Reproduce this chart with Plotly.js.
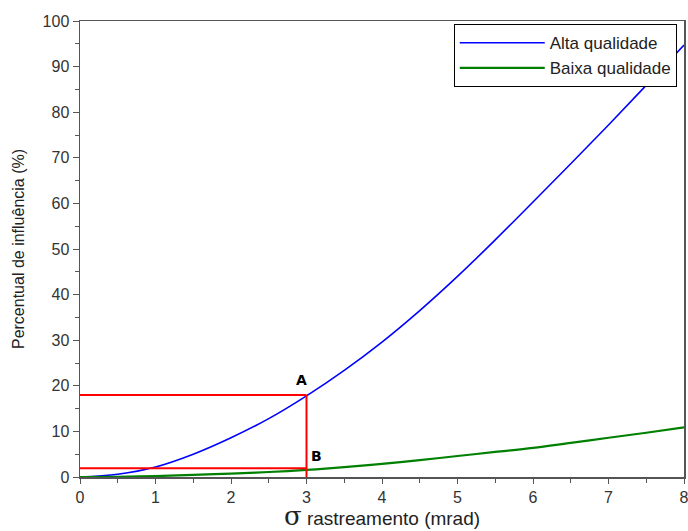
<!DOCTYPE html>
<html>
<head>
<meta charset="utf-8">
<script src="https://cdn.plot.ly/plotly-3.0.1.min.js"></script>
<style>html,body{margin:0;padding:0;background:#fff;}#chart{width:688px;height:531px;}</style>
</head>
<body>
<div id="chart"></div>
<script>
var sigma = [0,0.5,1,1.5,2,2.5,3,3.5,4,4.5,5,5.5,6,6.5,7,7.5,8];
var alta = [0,0.6,2.2,5.0,8.6,12.8,17.8,23.4,29.6,36.5,44.0,52.0,60.3,68.7,77.2,85.9,94.7];
var baixa = [0,0.05,0.2,0.45,0.75,1.1,1.55,2.15,2.9,3.7,4.6,5.5,6.4,7.5,8.6,9.7,10.9];
var guideH1x = [0,3], guideH1y = [18,18];
var guideVx = [3,3], guideVy = [0,18];
var guideH2x = [0,3], guideH2y = [1.9,1.9];
var labelText = ['A','B'];
var labelX = [2.94,3.13];
var labelY = [21.3,4.6];

var traces = [
  {x: sigma, y: alta, type:'scatter', mode:'lines', name:'Alta qualidade', line:{color:'#0000ff', width:1.6, shape:'spline'}},
  {x: sigma, y: baixa, type:'scatter', mode:'lines', name:'Baixa qualidade', line:{color:'#008000', width:2.2, shape:'spline'}},
  {x: guideH1x, y: guideH1y, type:'scatter', mode:'lines', showlegend:false, line:{color:'#ff0000', width:2}},
  {x: guideVx, y: guideVy, type:'scatter', mode:'lines', showlegend:false, line:{color:'#ff0000', width:2}},
  {x: guideH2x, y: guideH2y, type:'scatter', mode:'lines', showlegend:false, line:{color:'#ff0000', width:2}}
];

var annotations = labelText.map(function(t,i){
  return {x: labelX[i], y: labelY[i], xref:'x', yref:'y', text:'<b>'+t+'</b>', showarrow:false,
    font:{family:'DejaVu Sans, Liberation Sans, Arial', size:14, color:'#000'}};
});

var layout = {
  width: 688, height: 531,
  margin: {l:80, r:4, t:21, b:54},
  paper_bgcolor:'#fff', plot_bgcolor:'#fff',
  font: {family:'Liberation Sans, Arial, sans-serif', size:15, color:'#333'},
  showlegend: true,
  legend: {x:0.988, y:0.993, xanchor:'right', yanchor:'top', bgcolor:'#fff', bordercolor:'#000', borderwidth:1,
    font:{size:17, color:'#222'}, itemwidth:85, tracegroupgap:0},
  xaxis: {range:[0,8], dtick:1, tick0:0, showgrid:false, zeroline:false, showline:true, linecolor:'#555', linewidth:1.5,
    mirror:true, ticks:'outside', ticklen:5, tickcolor:'#555', tickfont:{size:16, color:'#333'}, ticklabeloverflow:'allow',
    minor:{dtick:0.5, ticks:'outside', ticklen:4, tickcolor:'#555', showgrid:false},
    title:{text:'<span style="font-family:DejaVu Serif, Liberation Serif, serif;font-size:26px">σ</span> rastreamento (mrad)', font:{size:19, color:'#222'}, standoff:6}},
  yaxis: {range:[0,100], dtick:10, tick0:0, showgrid:false, zeroline:false, showline:true, linecolor:'#555', linewidth:1.5,
    mirror:true, ticks:'outside', ticklen:6, tickcolor:'#555', tickfont:{size:16, color:'#333'},
    minor:{dtick:5, ticks:'outside', ticklen:4, tickcolor:'#555', showgrid:false},
    title:{text:'Percentual de influência (%)', font:{size:16, color:'#222'}, standoff:14}},
  annotations: annotations
};

Plotly.newPlot('chart', traces, layout, {displayModeBar:false, staticPlot:true});
</script>
</body>
</html>
